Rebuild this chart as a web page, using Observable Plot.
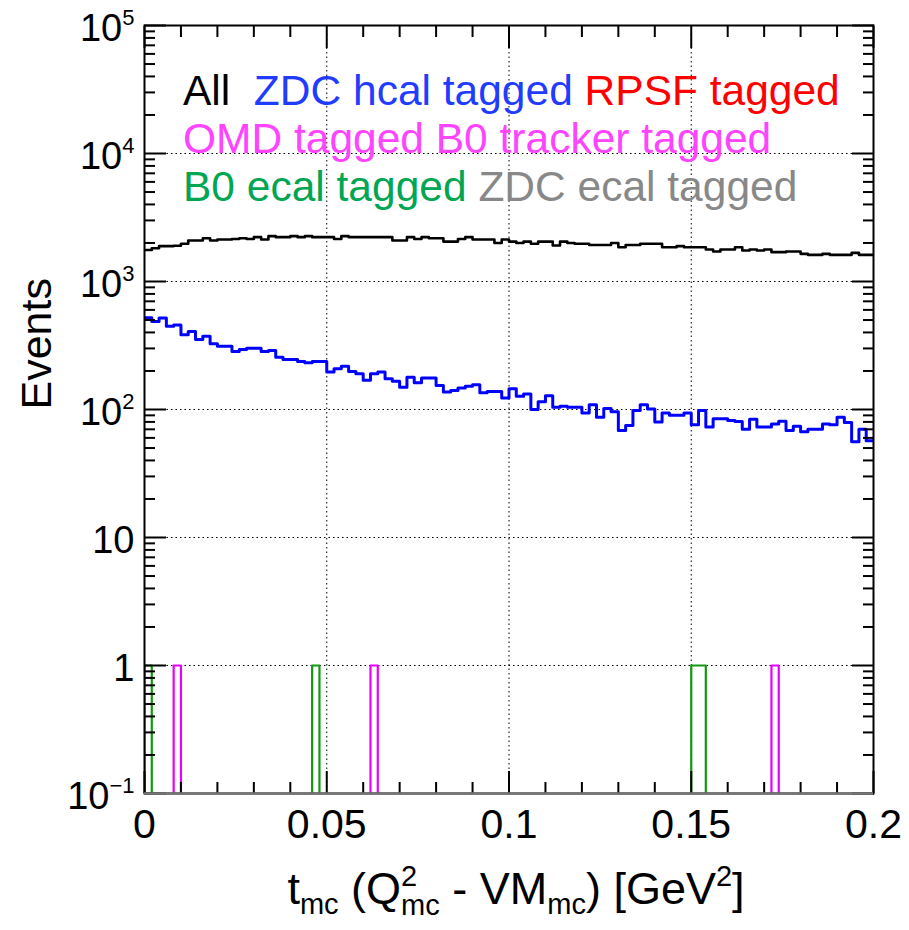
<!DOCTYPE html>
<html><head><meta charset="utf-8">
<script src="https://cdn.jsdelivr.net/npm/d3@7"></script>
<script src="https://cdn.jsdelivr.net/npm/@observablehq/plot@0.6"></script>
<style>
body{margin:0;background:#fff;}
svg{font-family:"Liberation Sans",Arial,Helvetica,sans-serif;}
</style>
</head><body><div id="chart"></div>
<script>
// ---- data ----
const binWidth = 0.002;
const xDomain = [0, 0.2];
const yDomain = [0.1, 1e5];

const allEvents = [
 1760,1820,1890,1890,1900,1970,2090,2090,2180,2090,
 2130,2130,2150,2180,2150,2220,2130,2260,2220,2220,
 2260,2220,2260,2220,2220,2220,2150,2260,2220,2220,
 2220,2220,2220,2220,2090,2090,2220,2150,2220,2180,
 2180,2050,2050,2150,2220,2130,2130,2130,2000,2130,
 2050,2000,2050,1970,2050,2050,1910,2050,2000,1970,
 1970,1930,1930,1930,2000,1850,1930,1930,1970,1970,
 1970,1850,1850,1890,1850,1850,1850,1780,1715,1780,
 1780,1850,1745,1780,1745,1780,1695,1695,1715,1715,
 1645,1615,1615,1645,1615,1615,1615,1675,1615,1615];

const zdcHcal = [
 520,487,518,448,458,383,406,352,374,326,
 312,312,284,294,301,301,284,289,256,246,
 246,237,232,237,237,196,208,218,198,190,
 169,190,196,174,166,149,179,162,176,176,
 154,137,141,147,152,156,135,138,138,123,
 145,127,132,100,115,128,104,106,104,104,
 94,109,87,102,96,68.5,75,98,109,101,
 80,94,90,90,94,76,98,73,84.5,84.5,
 82,80.6,70,84,73,73,77,81,68.5,74,
 67,70,70,77,76,87,79,56,70,57];

const b0EcalBins = [0, 0.046, 0.150, 0.152];
const b0EcalCounts = [1, 1, 1, 1];
const omdTrackerBins = [0.008, 0.062, 0.172];
const omdTrackerCounts = [1, 1, 1];

const xMajor = [0, 0.05, 0.1, 0.15, 0.2];
const xTickLabels = ["0", "0.05", "0.1", "0.15", "0.2"];
const xMinor = [0.01,0.02,0.03,0.04,0.06,0.07,0.08,0.09,0.11,0.12,0.13,0.14,0.16,0.17,0.18,0.19];
const yMajor = [0.1, 1, 10, 100, 1000, 10000, 100000];
const yTickLabels = ["10^\u22121", "1", "10", "10^2", "10^3", "10^4", "10^5"];
const yMinorFactors = [2,3,4,5,6,7,8,9];
const xGrid = [0.05, 0.1, 0.15];
const yGrid = [1, 10, 100, 1000, 10000];

const legendRows = [
  [["All  ", "#000000"], ["ZDC hcal tagged ", "#1f3cff"], ["RPSF tagged", "#ff0000"]],
  [["OMD tagged B0 tracker tagged", "#ff44ff"]],
  [["B0 ecal tagged ", "#00a651"], ["ZDC ecal tagged", "#888888"]]
];

const colors = {all: "#000000", zdc: "#0000ff", omd: "#e600ff", b0: "#119911"};

// ---- build step paths ----
function denseSteps(values) {
  return values.flatMap((v, i) => [{x: i * binWidth, y: v}, {x: (i + 1) * binWidth, y: v}]);
}
function sparseSteps(bins, counts, floor) {
  const pts = [];
  let run = 0, prevHi = null;
  bins.forEach((lo, i) => {
    const hi = lo + binWidth;
    const contiguous = prevHi !== null && Math.abs(prevHi - lo) < 1e-9;
    if (!contiguous) {
      if (prevHi !== null) pts.push({x: prevHi, y: floor, g: run});
      run++;
      pts.push({x: lo, y: floor, g: run});
    }
    pts.push({x: lo, y: counts[i], g: run}, {x: hi, y: counts[i], g: run});
    prevHi = hi;
  });
  if (prevHi !== null) pts.push({x: prevHi, y: floor, g: run});
  return pts;
}
const yMinor = yMajor.slice(0, -1).flatMap(d => yMinorFactors.map(k => k * d));

const tickStyle = {stroke: "black", strokeWidth: 2, label: null, tickFormat: () => ""};

const svg = Plot.plot({
  width: 909, height: 930,
  marginLeft: 144, marginRight: 36, marginTop: 25, marginBottom: 137,
  style: {background: "white", fontFamily: "Liberation Sans, Arial, sans-serif", fontSize: "38px", color: "black"},
  x: {domain: xDomain, label: null},
  y: {type: "log", domain: yDomain, label: null},
  marks: [
    Plot.gridX(xGrid, {stroke: "black", strokeOpacity: 1, strokeWidth: 1, strokeDasharray: "1.5,3"}),
    Plot.gridY(yGrid, {stroke: "black", strokeOpacity: 1, strokeWidth: 1, strokeDasharray: "1.5,3"}),
    Plot.lineY(sparseSteps(omdTrackerBins, omdTrackerCounts, yDomain[0]), {x: "x", y: "y", z: "g", stroke: colors.omd, strokeWidth: 2.2, clip: true}),
    Plot.lineY(sparseSteps(b0EcalBins, b0EcalCounts, yDomain[0]), {x: "x", y: "y", z: "g", stroke: colors.b0, strokeWidth: 2.2, clip: true}),
    Plot.lineY(denseSteps(zdcHcal), {x: "x", y: "y", stroke: colors.zdc, strokeWidth: 3, clip: true}),
    Plot.lineY(denseSteps(allEvents), {x: "x", y: "y", stroke: colors.all, strokeWidth: 2.6, clip: true}),
    // inward ticks on all four sides
    Plot.axisX({...tickStyle, anchor: "bottom", ticks: xMajor, tickSize: 22, dy: -22}),
    Plot.axisX({...tickStyle, anchor: "bottom", ticks: xMinor, tickSize: 11, dy: -11}),
    Plot.axisX({...tickStyle, anchor: "top", ticks: xMajor, tickSize: 22, dy: 22}),
    Plot.axisX({...tickStyle, anchor: "top", ticks: xMinor, tickSize: 11, dy: 11}),
    Plot.axisY({...tickStyle, anchor: "left", ticks: yMajor, tickSize: 22, dx: 22}),
    Plot.axisY({...tickStyle, anchor: "left", ticks: yMinor, tickSize: 11, dx: 11}),
    Plot.axisY({...tickStyle, anchor: "right", ticks: yMajor, tickSize: 22, dx: -22}),
    Plot.axisY({...tickStyle, anchor: "right", ticks: yMinor, tickSize: 11, dx: -11}),
    // tick labels
    Plot.axisX({anchor: "bottom", ticks: xMajor, tickSize: 0, tickPadding: 15, fontSize: 41, label: null,
      tickFormat: d => xTickLabels[xMajor.indexOf(d)]}),
    Plot.axisY({anchor: "left", ticks: yMajor, tickSize: 0, tickPadding: 10, fontSize: 38, label: null, dy: 3,
      tickFormat: d => yTickLabels[yMajor.indexOf(d)]}),
    Plot.frame({stroke: "black", strokeWidth: 2}),
    Plot.ruleY([yDomain[0]], {stroke: "#777", strokeWidth: 2.5}),
    Plot.text(["Events"], {text: d => d, frameAnchor: "left", dx: -107, rotate: -90, fontSize: 43})
  ]
});
document.getElementById("chart").appendChild(svg);
const sel = d3.select(svg);

// superscripts on y tick labels
sel.selectAll('g[aria-label="y-axis tick label"] text').each(function() {
  const s = this.textContent;
  if (!s.includes("^")) return;
  const [base, exp] = s.split("^");
  const t = d3.select(this);
  t.text(null);
  t.append("tspan").text(base);
  t.append("tspan").attr("dy", -16).attr("font-size", 22).text(exp);
});

// legend text
const legendX = 183, legendY = [105, 153, 201];
legendRows.forEach((row, r) => {
  const t = sel.append("text").attr("x", legendX).attr("y", legendY[r])
    .attr("text-anchor", "start").attr("font-size", 42.5)
    .attr("xml:space", "preserve").style("white-space", "pre");
  row.forEach(([txt, col]) => t.append("tspan").attr("fill", col).text(txt));
});

// x axis title with sub/superscripts
const titleSegs = [
  {t: "t", s: 45}, {t: "mc", s: 29, dy: 10},
  {t: " (Q", s: 45}, {t: "2", s: 29, dy: -18, stack: true}, {t: "mc", s: 29, dy: 11, under: true},
  {t: " - VM", s: 45}, {t: "mc", s: 29, dy: 10},
  {t: ") [GeV", s: 45}, {t: "2", s: 29, dy: -18}, {t: "]", s: 45}
];
const baseY = 904;
const g = sel.append("g").attr("text-anchor", "start");
let x = 0, stackX = 0;
titleSegs.forEach(seg => {
  const startX = seg.under ? stackX : x;
  const el = g.append("text").attr("x", startX).attr("y", baseY + (seg.dy || 0))
    .attr("text-anchor", "start").attr("font-size", seg.s)
    .attr("xml:space", "preserve").style("white-space", "pre").text(seg.t);
  const w = el.node().getComputedTextLength();
  if (seg.stack) stackX = startX;
  if (seg.under) x = Math.max(x, startX + w);
  else x = startX + w;
});
g.attr("transform", `translate(${516 - x / 2},0)`);
</script>
</body></html>
